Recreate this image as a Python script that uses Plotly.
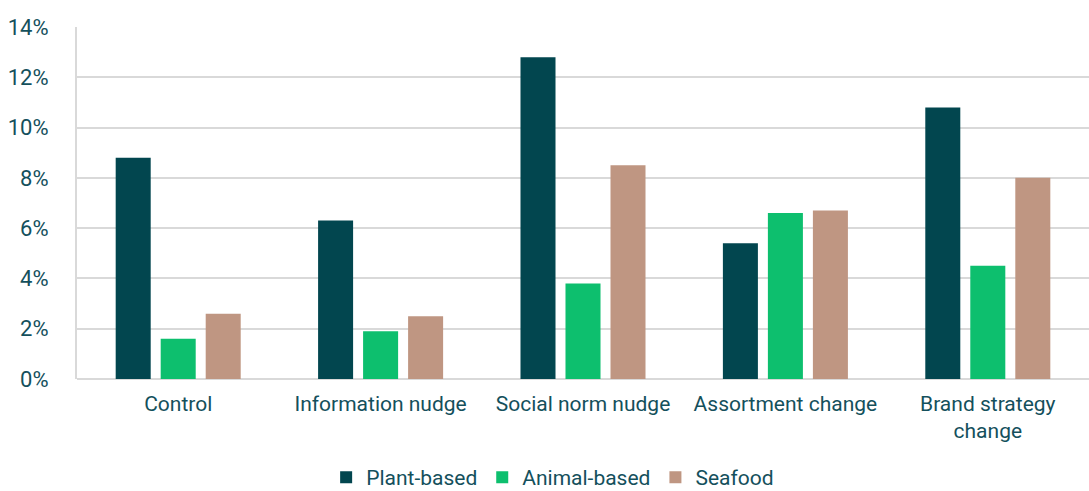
import plotly.graph_objects as go

categories = ["Control", "Information nudge", "Social norm nudge",
              "Assortment change", "Brand strategy<br>change"]
plant_based = [8.8, 6.3, 12.8, 5.4, 10.8]
animal_based = [1.6, 1.9, 3.8, 6.6, 4.5]
seafood = [2.6, 2.5, 8.5, 6.7, 8.0]

tick_vals = [0, 2, 4, 6, 8, 10, 12, 14]
tick_text = ["0%", "2%", "4%", "6%", "8%", "10%", "12%", "14%"]

text_color = "#14505c"
grid_color = "#d9d9d9"
font_family = "Roboto, Arial, sans-serif"

series = [
    ("Plant-based", plant_based, "#02464f"),
    ("Animal-based", animal_based, "#0dbf6e"),
    ("Seafood", seafood, "#bf9682"),
]

fig = go.Figure()
for name, values, color in series:
    fig.add_trace(go.Bar(
        x=categories, y=values, name=name,
        marker=dict(color=color, line=dict(width=0)),
    ))

fig.update_layout(
    width=1089, height=491,
    margin=dict(l=77, r=0, t=27, b=112, autoexpand=False),
    paper_bgcolor="white", plot_bgcolor="white",
    barmode="group", bargap=0.333, bargroupgap=0.222,
    font=dict(family=font_family, size=21, color=text_color),
    showlegend=True,
    legend=dict(orientation="h", x=0.47, xanchor="center",
                y=-0.28, yanchor="middle",
                font=dict(size=21, color=text_color),
                itemwidth=30, traceorder="normal"),
    xaxis=dict(showgrid=False, showline=False, ticks="", automargin=False,
               ticklabelstandoff=10,
               tickfont=dict(size=21, color=text_color)),
    yaxis=dict(range=[0, 14], tickvals=tick_vals, ticktext=tick_text,
               automargin=False,
               showgrid=True, gridcolor=grid_color, gridwidth=2,
               zeroline=True, zerolinecolor=grid_color, zerolinewidth=2,
               showline=True, linecolor=grid_color, linewidth=2,
               ticks="", ticklabelstandoff=22,
               tickfont=dict(size=22, color=text_color)),
)

fig.write_html("out.html")
